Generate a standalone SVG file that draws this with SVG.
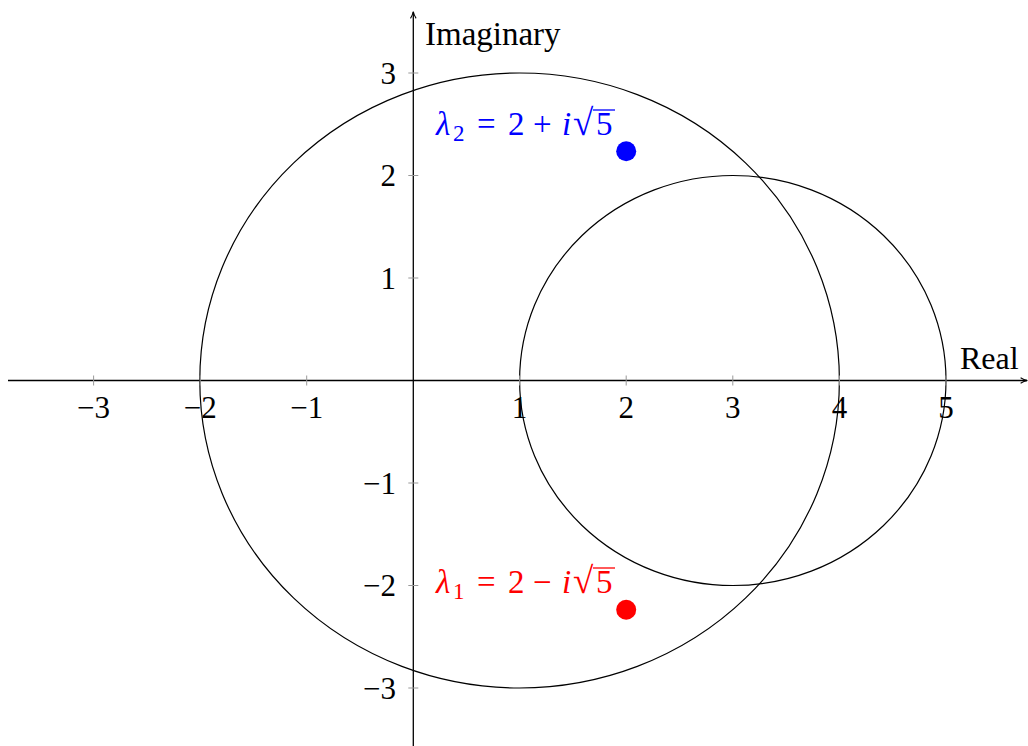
<svg xmlns="http://www.w3.org/2000/svg" width="1028" height="746" viewBox="0 0 1028 746">
<style>
text{font-family:"Liberation Serif","DejaVu Serif",serif;font-size:31px;fill:#000}
.tick{stroke:#999;stroke-width:1}
.axis{stroke:#000;stroke-width:1.3;fill:none}
.circ{stroke:#000;stroke-width:1.2;fill:none}
.xl{text-anchor:middle}
.yl{text-anchor:end}
.it{font-style:italic}
.lab{font-size:33px}
.rad{font-size:37px}
</style>
<defs>
<marker id="arr" viewBox="0 0 10 10" refX="9" refY="5" markerWidth="8" markerHeight="8" markerUnits="userSpaceOnUse" orient="auto">
<path d="M1,1.5 Q5,4 9.5,5 Q5,6 1,8.5" fill="none" stroke="#000" stroke-width="1.3"/>
</marker>
</defs>
<g id="circles">
<ellipse id="circle1" class="circ" cx="519.6" cy="380.5" rx="319.8" ry="307.5"/>
<ellipse id="circle2" class="circ" cx="732.8" cy="380.5" rx="213.2" ry="205"/>
</g>
<g id="axes">
<line class="axis" x1="8" y1="380.5" x2="1027" y2="380.5" marker-end="url(#arr)"/>
<line class="axis" x1="413.3" y1="746" x2="413.3" y2="12" marker-end="url(#arr)"/>
<g id="xticks">
<line class="tick" x1="93.6" y1="375.5" x2="93.6" y2="385.5"/>
<line class="tick" x1="200.2" y1="375.5" x2="200.2" y2="385.5"/>
<line class="tick" x1="306.7" y1="375.5" x2="306.7" y2="385.5"/>
<line class="tick" x1="519.6" y1="375.5" x2="519.6" y2="385.5"/>
<line class="tick" x1="626.2" y1="375.5" x2="626.2" y2="385.5"/>
<line class="tick" x1="732.8" y1="375.5" x2="732.8" y2="385.5"/>
<line class="tick" x1="839.4" y1="375.5" x2="839.4" y2="385.5"/>
<line class="tick" x1="946" y1="375.5" x2="946" y2="385.5"/>
</g>
<g id="yticks">
<line class="tick" x1="408.3" y1="73" x2="418.3" y2="73"/>
<line class="tick" x1="408.3" y1="175.5" x2="418.3" y2="175.5"/>
<line class="tick" x1="408.3" y1="278" x2="418.3" y2="278"/>
<line class="tick" x1="408.3" y1="483" x2="418.3" y2="483"/>
<line class="tick" x1="408.3" y1="585.5" x2="418.3" y2="585.5"/>
<line class="tick" x1="408.3" y1="688" x2="418.3" y2="688"/>
</g>
<g id="xlabels">
<text class="xl" x="93.6" y="418">−3</text>
<text class="xl" x="200.2" y="418">−2</text>
<text class="xl" x="306.7" y="418">−1</text>
<text class="xl" x="519.6" y="418">1</text>
<text class="xl" x="626.2" y="418">2</text>
<text class="xl" x="732.8" y="418">3</text>
<text class="xl" x="839.4" y="418">4</text>
<text class="xl" x="946" y="418">5</text>
</g>
<g id="ylabels">
<text class="yl" x="396" y="84">3</text>
<text class="yl" x="396" y="186">2</text>
<text class="yl" x="396" y="289">1</text>
<text class="yl" x="396" y="494">−1</text>
<text class="yl" x="396" y="596">−2</text>
<text class="yl" x="396" y="699">−3</text>
</g>
<text id="xname" x="960" y="369" style="font-size:32px">Real</text>
<text id="yname" x="425" y="45" style="font-size:33px">Imaginary</text>
</g>
<g id="lambda2">
<circle cx="626.2" cy="151.3" r="10" fill="#0000ff"/>
<text class="lab" y="135" style="fill:#0000ff"><tspan class="it" x="436">λ</tspan><tspan x="453" y="141" font-size="23">2</tspan><tspan x="477" y="135">=</tspan><tspan x="508">2</tspan><tspan x="533">+</tspan><tspan class="it" x="562">i</tspan><tspan class="rad" x="573">√</tspan><tspan x="596">5</tspan></text>
<line x1="593" y1="110" x2="615" y2="110" stroke="#0000ff" stroke-width="1.3"/>
</g>
<g id="lambda1">
<circle cx="626.2" cy="609.7" r="10" fill="#ff0000"/>
<text class="lab" y="593" style="fill:#ff0000"><tspan class="it" x="436">λ</tspan><tspan x="453" y="599" font-size="23">1</tspan><tspan x="477" y="593">=</tspan><tspan x="508">2</tspan><tspan x="533">−</tspan><tspan class="it" x="562">i</tspan><tspan class="rad" x="573">√</tspan><tspan x="596">5</tspan></text>
<line x1="593" y1="568" x2="615" y2="568" stroke="#ff0000" stroke-width="1.3"/>
</g>
</svg>
